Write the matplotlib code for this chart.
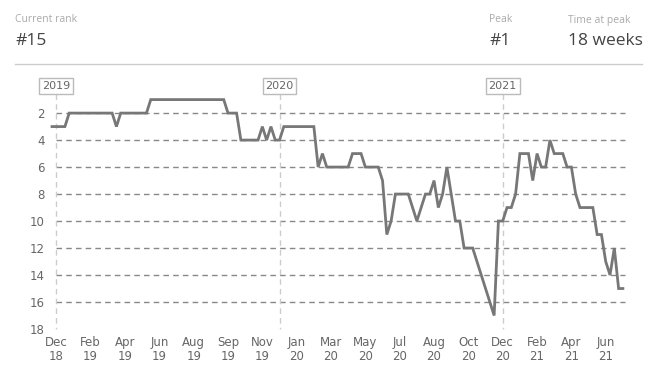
import numpy as np
import matplotlib.pyplot as plt

# Semana (desde el primer dato) y posición en el ranking
semanas = [0, 3, 4, 14, 15, 16, 22, 23, 40, 41, 43, 44, 48, 49, 50, 51, 52, 53, 54,
           61, 62, 63, 64, 69, 70, 72, 73, 76, 77, 78, 79, 80, 83, 85, 87, 88, 89,
           90, 91, 92, 94, 95, 96, 98, 103, 104, 105, 106, 107, 108, 109, 111, 112,
           113, 114, 115, 116, 117, 119, 120, 121, 122, 123, 126, 127, 128, 129,
           130, 131, 132, 133]
ranking = [3, 3, 2, 2, 3, 2, 2, 1, 1, 2, 2, 4, 4, 3, 4, 3, 4, 4, 3,
           3, 6, 5, 6, 6, 5, 5, 6, 6, 7, 11, 10, 8, 8, 10, 8, 8, 7,
           9, 8, 6, 10, 10, 12, 12, 17, 10, 10, 9, 9, 8, 5, 5, 7,
           5, 6, 6, 4, 5, 5, 6, 6, 8, 9, 9, 11, 11, 13,
           14, 12, 15, 15]

etiquetas_x = ['Dec\n18', 'Feb\n19', 'Apr\n19', 'Jun\n19', 'Aug\n19', 'Sep\n19',
               'Nov\n19', 'Jan\n20', 'Mar\n20', 'May\n20', 'Jul\n20', 'Aug\n20',
               'Oct\n20', 'Dec\n20', 'Feb\n21', 'Apr\n21', 'Jun\n21']
anios = ['2019', '2020', '2021']
semanas_anio = [1, 53, 105]

fig = plt.figure(figsize=(6.54, 3.76), dpi=100)
ax = fig.add_axes([0.073, 0.125, 0.886, 0.646])

# Cabecera
fig.text(15 / 654, 1 - 20 / 376, 'Current rank', fontsize=7.5, color='#aaaaaa',
         family='Open Sans', va='center')
fig.text(15 / 654, 1 - 41 / 376, '#15', fontsize=12.5, color='#444444',
         family='Open Sans', va='center')
fig.text(489 / 654, 1 - 20 / 376, 'Peak', fontsize=7.5, color='#aaaaaa',
         family='Open Sans', va='center')
fig.text(489 / 654, 1 - 41 / 376, '#1', fontsize=12.5, color='#444444',
         family='Open Sans', va='center')
fig.text(568 / 654, 1 - 20 / 376, 'Time at peak', fontsize=7.5, color='#aaaaaa',
         family='Open Sans', va='center')
fig.text(568 / 654, 1 - 41 / 376, '18 weeks', fontsize=12.5, color='#444444',
         family='Open Sans', va='center')
fig.add_artist(plt.Line2D([15 / 654, 642 / 654], [1 - 64 / 376, 1 - 64 / 376],
                          color='#cccccc', lw=1))

# Rejilla
for r in range(2, 17, 2):
    ax.plot([1, 133.5], [r, r], color='#888888', lw=1, ls=(0, (4, 3)), zorder=1)
for s, a in zip(semanas_anio, anios):
    ax.plot([s, s], [0.6, 18], color='#cccccc', lw=1, ls=(0, (4, 3)), zorder=1,
            clip_on=False)
    ax.text(s, 0, a, fontsize=8, color='#666666', ha='center', va='center',
            bbox=dict(boxstyle='square,pad=0.25', fc='white', ec='#bbbbbb', lw=1),
            zorder=5)

ax.plot(semanas, ranking, color='#777777', lw=2, zorder=3, solid_joinstyle='miter')

ax.set_xlim(-1, 134)
ax.set_ylim(18, 0)
ax.set_yticks(range(2, 19, 2))
ax.set_xticks(np.arange(1, 130, 8))
ax.set_xticklabels(etiquetas_x, linespacing=1.15)
ax.tick_params(length=0, labelsize=8.5, labelcolor='#666666')
ax.tick_params(axis='y', pad=2)
ax.tick_params(axis='x', pad=5)
for sp in ax.spines.values():
    sp.set_visible(False)

fig.savefig('out.png', dpi=100)
